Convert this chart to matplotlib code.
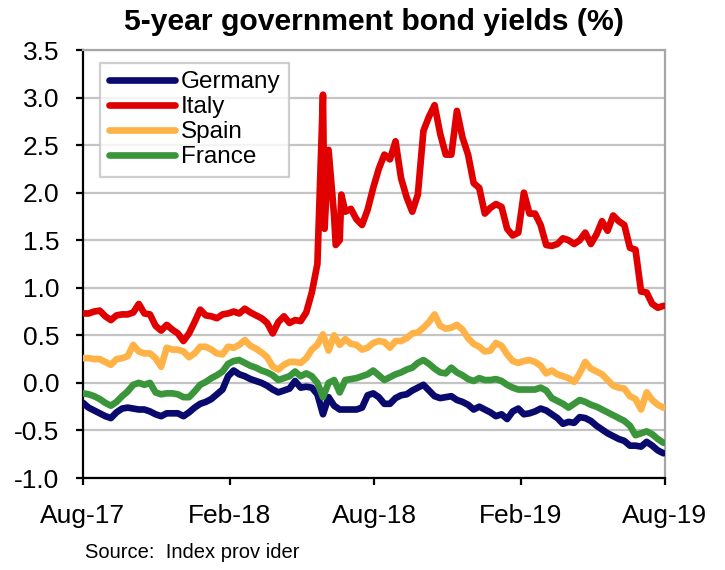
import matplotlib
matplotlib.use("Agg")
import matplotlib.pyplot as plt
from matplotlib.ticker import FormatStrFormatter, MultipleLocator
import pandas as pd

# Weekly observations (Tuesdays) from 1 Aug 2017
start_date = "2017-08-01"
n_weeks = 105

germany = [
    -0.21, -0.26, -0.29, -0.32, -0.35, -0.37, -0.31, -0.27, -0.26, -0.27,
    -0.28, -0.28, -0.30, -0.33, -0.35, -0.32, -0.32, -0.32, -0.35, -0.31,
    -0.26, -0.22, -0.20, -0.17, -0.12, -0.07, 0.07, 0.13, 0.09, 0.07,
    0.04, 0.02, 0.00, -0.03, -0.07, -0.10, -0.08, -0.06, 0.02, -0.05,
    -0.04, -0.05, -0.12, -0.33, -0.15, -0.24, -0.28, -0.28, -0.28, -0.28,
    -0.26, -0.13, -0.11, -0.15, -0.22, -0.22, -0.16, -0.13, -0.12, -0.08,
    -0.05, -0.02, -0.08, -0.14, -0.16, -0.15, -0.14, -0.18, -0.20, -0.23,
    -0.28, -0.25, -0.28, -0.31, -0.35, -0.33, -0.38, -0.30, -0.27, -0.33,
    -0.32, -0.30, -0.27, -0.29, -0.33, -0.37, -0.43, -0.41, -0.42, -0.36,
    -0.37, -0.40, -0.45, -0.49, -0.53, -0.56, -0.59, -0.61, -0.66, -0.66,
    -0.67, -0.62, -0.66, -0.71, -0.74,
]

italy = [
    0.73, 0.73, 0.75, 0.76, 0.70, 0.66, 0.71, 0.72, 0.72, 0.74,
    0.83, 0.73, 0.72, 0.60, 0.55, 0.61, 0.56, 0.52, 0.44, 0.52,
    0.64, 0.77, 0.71, 0.70, 0.68, 0.72, 0.73, 0.75, 0.73, 0.78,
    0.74, 0.71, 0.68, 0.63, 0.52, 0.64, 0.70, 0.63, 0.66, 0.65,
    0.74, 0.95, 1.25, 3.03, 2.45, 1.75, 1.50, 1.80, 1.83, 1.72,
    1.66, 1.82, 2.05, 2.25, 2.40, 2.35, 2.54, 2.15, 1.95, 1.80,
    1.98, 2.65, 2.80, 2.92, 2.62, 2.40, 2.40, 2.86, 2.58, 2.40,
    2.10, 2.05, 1.78, 1.84, 1.88, 1.85, 1.62, 1.55, 1.58, 2.00,
    1.78, 1.78, 1.66, 1.45, 1.44, 1.46, 1.52, 1.50, 1.46, 1.50,
    1.58, 1.46, 1.56, 1.70, 1.60, 1.76, 1.70, 1.66, 1.42, 1.40,
    0.96, 0.95, 0.83, 0.79, 0.81,
]

# Extra Italian quotes around the May-June 2018 sell-off
italy_extra_dates = ["2018-05-31", "2018-06-14", "2018-06-21"]
italy_extra = [1.62, 1.45, 1.98]

spain = [
    0.26, 0.26, 0.25, 0.25, 0.22, 0.19, 0.25, 0.26, 0.28, 0.40,
    0.33, 0.31, 0.31, 0.26, 0.17, 0.37, 0.35, 0.35, 0.33, 0.27,
    0.31, 0.38, 0.38, 0.35, 0.31, 0.30, 0.38, 0.37, 0.40, 0.45,
    0.39, 0.36, 0.32, 0.27, 0.17, 0.14, 0.19, 0.22, 0.22, 0.21,
    0.26, 0.35, 0.40, 0.51, 0.34, 0.50, 0.40, 0.46, 0.41, 0.40,
    0.35, 0.37, 0.42, 0.44, 0.43, 0.37, 0.44, 0.44, 0.47, 0.52,
    0.53, 0.58, 0.64, 0.72, 0.60, 0.57, 0.58, 0.61, 0.56, 0.47,
    0.41, 0.38, 0.33, 0.34, 0.42, 0.39, 0.30, 0.23, 0.21, 0.23,
    0.24, 0.22, 0.18, 0.10, 0.13, 0.09, 0.07, 0.05, 0.01, 0.10,
    0.22, 0.15, 0.12, 0.09, 0.03, -0.03, -0.05, -0.06, -0.14, -0.17,
    -0.28, -0.10, -0.18, -0.23, -0.26,
]

france = [
    -0.11, -0.12, -0.14, -0.17, -0.21, -0.24, -0.20, -0.14, -0.09, -0.02,
    0.00, -0.02, 0.00, -0.10, -0.12, -0.11, -0.11, -0.12, -0.15, -0.15,
    -0.09, -0.02, 0.01, 0.05, 0.08, 0.12, 0.20, 0.23, 0.24, 0.21,
    0.18, 0.16, 0.13, 0.11, 0.08, 0.03, 0.05, 0.07, 0.12, 0.07,
    0.10, 0.07, 0.00, -0.15, 0.00, 0.03, -0.10, 0.03, 0.04, 0.05,
    0.07, 0.09, 0.13, 0.08, 0.03, 0.06, 0.09, 0.11, 0.14, 0.16,
    0.21, 0.24, 0.20, 0.15, 0.11, 0.10, 0.16, 0.11, 0.08, 0.04,
    0.02, 0.05, 0.03, 0.03, 0.04, 0.02, -0.02, -0.05, -0.07, -0.07,
    -0.07, -0.07, -0.05, -0.08, -0.16, -0.19, -0.22, -0.26, -0.22, -0.18,
    -0.20, -0.23, -0.25, -0.28, -0.31, -0.34, -0.37, -0.40, -0.45, -0.55,
    -0.53, -0.51, -0.54, -0.59, -0.63,
]

series_names = ["Germany", "Italy", "Spain", "France"]
series_colors = ["#0a0a6e", "#e00000", "#ffb347", "#3b963b"]

x_tick_dates = ["2017-08-01", "2018-02-01", "2018-08-01", "2019-02-01", "2019-08-01"]
x_tick_labels = ["Aug-17", "Feb-18", "Aug-18", "Feb-19", "Aug-19"]

title_text = "5-year government bond yields (%)"
source_text = "Source:  Index prov ider"

# ---------------------------------------------------------------------------
plt.rcParams["font.family"] = ["Liberation Sans", "DejaVu Sans"]
plt.rcParams["axes.unicode_minus"] = False

dates = pd.date_range(start_date, periods=n_weeks, freq="7D")
italy_full = pd.concat([
    pd.Series(italy, index=dates),
    pd.Series(italy_extra, index=pd.to_datetime(italy_extra_dates)),
]).sort_index()

data = {
    "Germany": pd.Series(germany, index=dates),
    "Italy": italy_full,
    "Spain": pd.Series(spain, index=dates),
    "France": pd.Series(france, index=dates),
}

fig = plt.figure(figsize=(7.25, 5.70), dpi=100)
ax = fig.add_axes([83 / 725, 1 - 478 / 570, 582 / 725, 428 / 570])

for name, color in zip(series_names, series_colors):
    s = data[name]
    ax.plot(s.index, s.values, color=color, lw=4.8, label=name,
            solid_joinstyle="round", solid_capstyle="round", zorder=3)

ax.set_xlim(pd.Timestamp(x_tick_dates[0]), pd.Timestamp(x_tick_dates[-1]))
ax.set_ylim(-1.0, 3.5)
ax.yaxis.set_major_locator(MultipleLocator(0.5))
ax.yaxis.set_major_formatter(FormatStrFormatter("%.1f"))
ax.set_xticks(pd.to_datetime(x_tick_dates))
ax.set_xticklabels(x_tick_labels)

ax.grid(axis="y", color="#c4c4c4", lw=1.6, zorder=0)
ax.set_axisbelow(True)

for side in ("top", "right"):
    ax.spines[side].set_color("#a6a6a6")
    ax.spines[side].set_linewidth(1.6)
for side in ("left", "bottom"):
    ax.spines[side].set_color("black")
    ax.spines[side].set_linewidth(1.6)

ax.tick_params(axis="both", direction="out", length=5, width=1.6,
               labelsize=19, color="black")
ax.tick_params(axis="y", pad=12)
ax.tick_params(axis="x", pad=14)

leg = ax.legend(loc="upper left", bbox_to_anchor=(0.030, 0.970),
                borderaxespad=0, fontsize=17.5, frameon=True, fancybox=False,
                handlelength=2.7, handletextpad=0.25, labelspacing=0.12,
                borderpad=0.35)
leg.get_frame().set_edgecolor("#c4c4c4")
leg.get_frame().set_linewidth(1.6)
for line in leg.get_lines():
    line.set_linewidth(4.8)
    line.set_solid_capstyle("round")

fig.text(374 / 725, 1 - 22 / 570, title_text, ha="center", va="center",
         fontsize=21.7, fontweight="bold")
fig.text(85 / 725, 1 - 552 / 570, source_text, ha="left", va="center",
         fontsize=14.5)

fig.savefig("out.png", dpi=100)
